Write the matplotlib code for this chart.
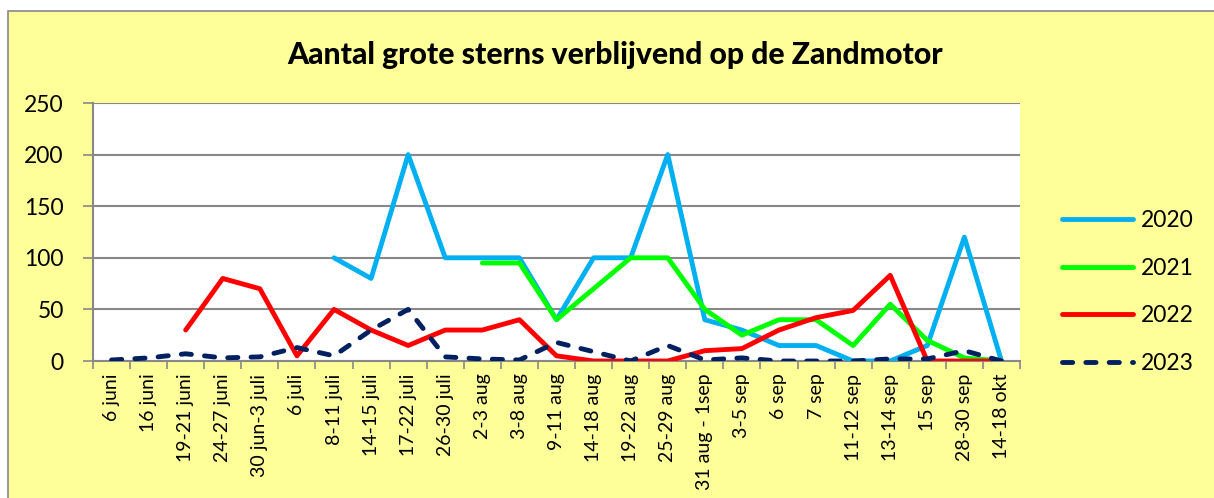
import matplotlib
matplotlib.use("Agg")
import matplotlib.pyplot as plt
from matplotlib.patches import Rectangle
import numpy as np

categories = ["6 juni", "16 juni", "19-21 juni", "24-27 juni", "30 jun-3 juli", "6 juli",
              "8-11 juli", "14-15 juli", "17-22 juli", "26-30 juli", "2-3 aug", "3-8 aug",
              "9-11 aug", "14-18 aug", "19-22 aug", "25-29 aug", "31 aug - 1sep", "3-5 sep",
              "6 sep", "7 sep", "11-12 sep", "13-14 sep", "15 sep", "28-30 sep", "14-18 okt"]

nan = np.nan
y2020 = [nan, nan, nan, nan, nan, nan, 100, 80, 200, 100, 100, 100, 40, 100, 100, 200,
         40, 30, 15, 15, 0, 0, 15, 120, 0]
y2021 = [nan, nan, nan, nan, nan, nan, nan, nan, nan, nan, 95, 95, 40, 70, 100, 100,
         50, 25, 40, 40, 15, 55, 20, 3, 0]
y2022 = [nan, nan, 30, 80, 70, 5, 50, 30, 15, 30, 30, 40, 5, 0, 0, 0,
         10, 12, 30, 42, 49, 83, 0, 0, 0]
y2023 = [1, 3, 7, 3, 4, 13, 5, 30, 50, 4, 2, 1, 18, 9, 0, 15,
         1, 3, 0, 0, 0, 2, 2, 10, 0]

series = [("2020", y2020, "#00B0F0", "-"),
          ("2021", y2021, "#00FF00", "-"),
          ("2022", y2022, "#FF0000", "-"),
          ("2023", y2023, "#002060", (0, (2.1, 2.7)))]

yticks = [0, 50, 100, 150, 200, 250]

FONT = ["Lato", "DejaVu Sans"]
plt.rcParams["font.family"] = FONT

W, H = 1214, 498
fig = plt.figure(figsize=(W / 100, H / 100), dpi=100)
fig.patch.set_facecolor("white")
# chart area background with border
fig.patches.append(Rectangle((8 / W, -0.2), 1.2, 1.2 - 11 / H, transform=fig.transFigure,
                             facecolor="#FFFF99", edgecolor="#888888", linewidth=1.2,
                             zorder=-10))

left, right, top, bottom = 93, 1020, 103, 361
ax = fig.add_axes([left / W, 1 - bottom / H, (right - left) / W, (bottom - top) / H])
ax.set_zorder(2)
ax.set_facecolor("white")

x = np.arange(len(categories))
for name, vals, col, ls in series:
    kw = dict(color=col, linewidth=3.5, label=name, zorder=3)
    if isinstance(ls, tuple):
        ax.plot(x, vals, linestyle=ls, dash_capstyle="round", dash_joinstyle="round", **kw)
    else:
        ax.plot(x, vals, linestyle=ls, solid_capstyle="round", solid_joinstyle="round", **kw)

ax.set_xlim(-0.5, len(categories) - 0.5)
ax.set_ylim(0, 250)
ax.set_yticks(yticks)
ax.set_yticklabels([str(v) for v in yticks], fontsize=16.5)
ax.yaxis.grid(True, color="#888888", linewidth=1.5, zorder=1)
ax.set_axisbelow(True)

ax.set_xticks(x)
ax.set_xticklabels(categories, rotation=90, fontsize=14, va="top", ha="center")
ax.set_xticks(np.arange(-0.5, len(categories)), minor=True)
ax.tick_params(axis="x", which="major", length=0, pad=9)
ax.tick_params(axis="x", which="minor", length=6, width=1.2, color="#888888", direction="out")
ax.tick_params(axis="y", length=7, width=1.2, color="#888888", direction="out", pad=14)

for s in ["top", "right"]:
    ax.spines[s].set_visible(False)
for s in ["left", "bottom"]:
    ax.spines[s].set_color("#888888")
    ax.spines[s].set_linewidth(1.5)

fig.text(615 / W, 1 - 55 / H, "Aantal grote sterns verblijvend op de Zandmotor",
         ha="center", va="center", fontsize=21.7, fontweight="black")

leg = fig.legend(loc="center left", bbox_to_anchor=(1041 / W, 1 - 292 / H),
                 frameon=False, fontsize=16.5, handlelength=3.1, handletextpad=0.35,
                 labelspacing=1.15)

fig.savefig("out.png", dpi=100, facecolor=fig.get_facecolor())
